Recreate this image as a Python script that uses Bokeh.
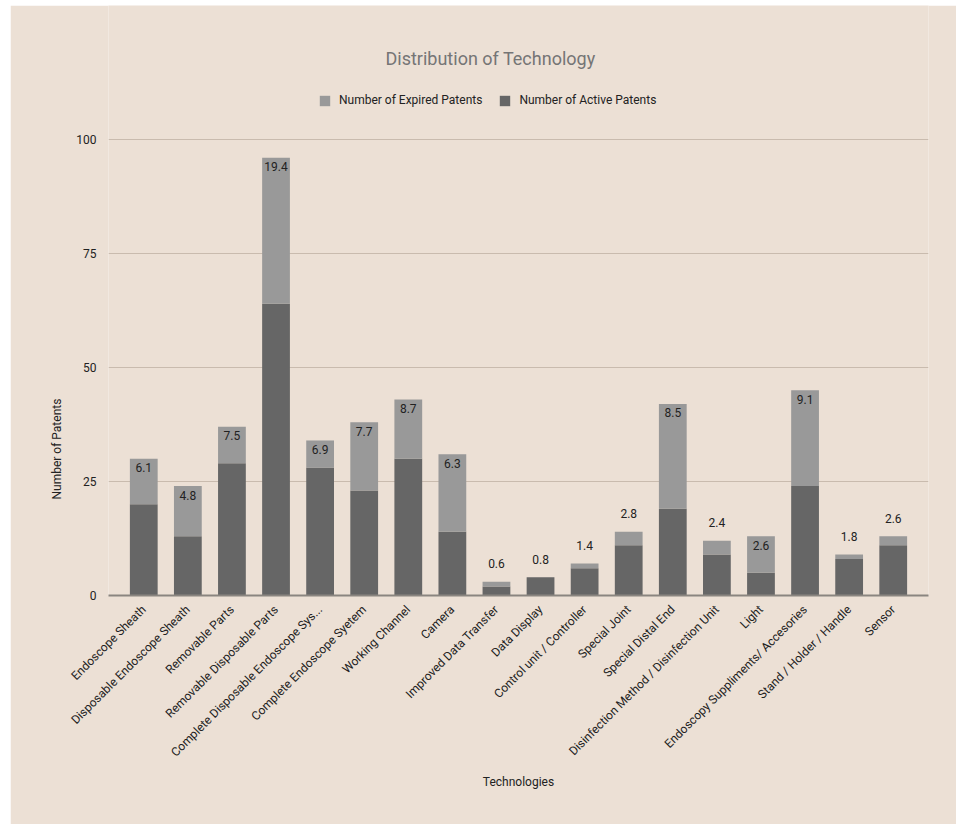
import math
from bokeh.plotting import figure
from bokeh.models import (ColumnDataSource, FactorRange, Range1d, Title, Label, Legend,
                          LegendItem, FixedTicker)
from bokeh.core.properties import value
from bokeh.embed import file_html
from bokeh.resources import INLINE

categories = [
    "Endoscope Sheath", "Disposable Endoscope Sheath", "Removable Parts",
    "Removable Disposable Parts", "Complete Disposable Endoscope Sys...",
    "Complete Endoscope Syetem", "Working Channel", "Camera",
    "Improved Data Transfer", "Data Display", "Control unit / Controller",
    "Special Joint", "Special Distal End", "Disinfection Method / Disinfection Unit",
    "Light", "Endoscopy Suppliments/ Accesories", "Stand / Holder / Handle", "Sensor",
]
active = [20, 13, 29, 64, 28, 23, 30, 14, 2, 4, 6, 11, 19, 9, 5, 24, 8, 11]
expired = [10, 11, 8, 32, 6, 15, 13, 17, 1, 0, 1, 3, 23, 3, 8, 21, 1, 2]
pct_labels = ["6.1", "4.8", "7.5", "19.4", "6.9", "7.7", "8.7", "6.3", "0.6",
              "0.8", "1.4", "2.8", "8.5", "2.4", "2.6", "9.1", "1.8", "2.6"]
y_ticks = [0, 25, 50, 75, 100]

BG = "#ECE0D5"
FONT = "Roboto"
C_EXP = "#999999"
C_ACT = "#666666"

totals = [a + e for a, e in zip(active, expired)]
inside = [e >= 5 for e in expired]

src = ColumnDataSource(dict(cat=categories, active=active, expired=expired))
lab_src = ColumnDataSource(dict(
    cat=categories, y=totals, text=pct_labels,
    yoff=[9 if i else -18 for i in inside],
))

# frame spans from the top of the card down to the zero line; the value axis
# (0..100) occupies the lower 456 px, the space above holds title and legend
FRAME_H = 590
AXIS_H = 456
y_top = 100 * FRAME_H / AXIS_H

p = figure(
    width=946, height=819, margin=(5, 0, 0, 10),
    x_range=FactorRange(*categories, range_padding=0.3, range_padding_units="absolute"),
    y_range=Range1d(0, y_top),
    output_backend="svg", toolbar_location=None, title_location=None,
    min_border_left=98, min_border_right=28, min_border_top=0, min_border_bottom=229,
    background_fill_color=BG, border_fill_color=BG, outline_line_color=None,
)

rs = p.vbar_stack(["active", "expired"], x="cat", width=0.63, source=src,
                  color=[C_ACT, C_EXP], line_color=None)

p.text(x="cat", y="y", text="text", source=lab_src, y_offset="yoff",
       text_align="center", text_baseline="middle", text_font=value(FONT),
       text_font_size="12px", text_color="#222222")

# axes
p.xaxis.axis_line_color = "#8a8580"
p.xaxis.axis_line_width = 2
p.xaxis.major_tick_line_color = None
p.xaxis.minor_tick_line_color = None
p.xaxis.major_label_orientation = math.pi / 4
p.xaxis.major_label_standoff = 6
p.xaxis.major_label_text_font = FONT
p.xaxis.major_label_text_font_size = "12px"
p.xaxis.major_label_text_color = "#222222"
p.xaxis.axis_label = "Technologies"
p.xaxis.axis_label_text_font = FONT
p.xaxis.axis_label_text_font_size = "12px"
p.xaxis.axis_label_text_font_style = "normal"
p.xaxis.axis_label_text_color = "#222222"
p.xaxis.axis_label_standoff = 8

p.yaxis.ticker = FixedTicker(ticks=y_ticks)
p.yaxis.axis_line_color = None
p.yaxis.major_tick_line_color = None
p.yaxis.minor_tick_line_color = None
p.yaxis.major_label_standoff = 6
p.yaxis.major_label_text_font = FONT
p.yaxis.major_label_text_font_size = "12px"
p.yaxis.major_label_text_color = "#222222"

p.xgrid.grid_line_color = None
p.ygrid.ticker = FixedTicker(ticks=y_ticks)
p.ygrid.grid_line_color = "#C9BBAE"
p.ygrid.grid_line_width = 1

# y-axis title in the left panel
p.add_layout(Title(text="Number of Patents", align="left", offset=96,
                   text_font=FONT, text_font_size="12px", text_font_style="normal",
                   text_color="#222222", standoff=20), "left")

# chart title
p.add_layout(Label(x=382, y=537, x_units="screen", y_units="screen",
                   text="Distribution of Technology",
                   text_align="center", text_baseline="middle",
                   text_font=FONT, text_font_size="18px", text_color="#757575"))

legend = Legend(
    items=[LegendItem(label="Number of Expired Patents", renderers=[rs[1]]),
           LegendItem(label="Number of Active Patents", renderers=[rs[0]])],
    location=(210, 488), orientation="horizontal",
    background_fill_alpha=0, border_line_color=None,
    glyph_width=13, glyph_height=13, label_standoff=8, spacing=16,
    padding=0, margin=0,
    label_text_font=FONT, label_text_font_size="12px", label_text_color="#222222",
)
p.add_layout(legend, "center")

open("out.html", "w").write(file_html(p, INLINE))
